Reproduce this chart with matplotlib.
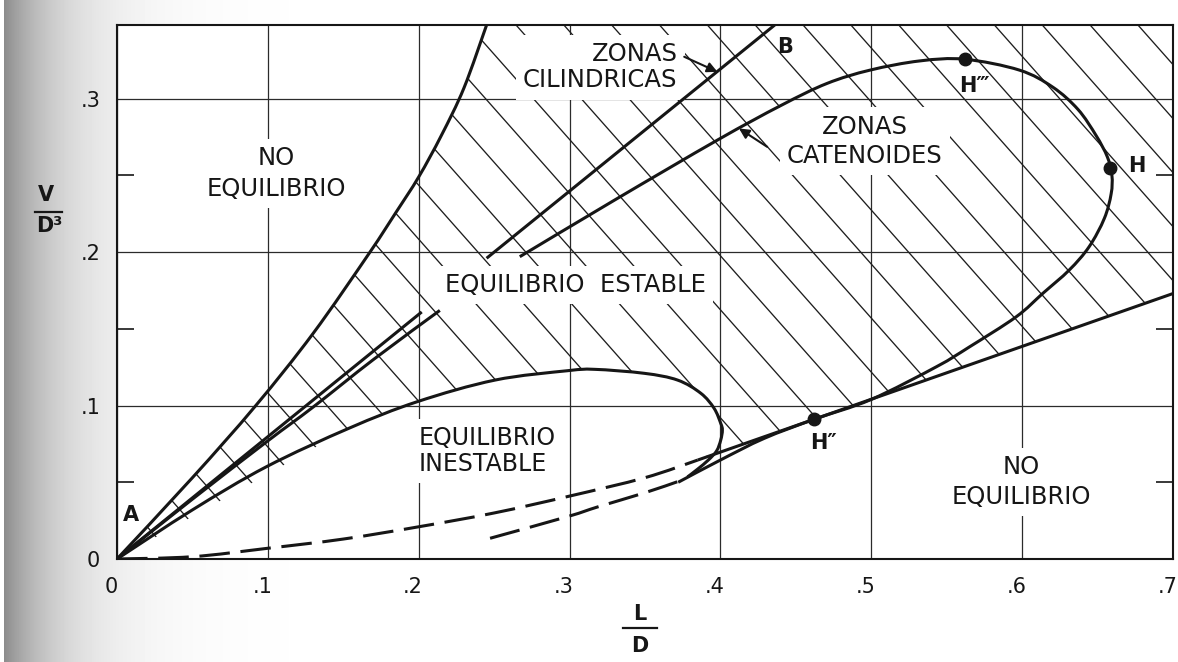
import numpy as np
import matplotlib
matplotlib.use("Agg")
import matplotlib.pyplot as plt
from matplotlib.patches import Polygon, PathPatch
from matplotlib.path import Path
from matplotlib.collections import LineCollection
from matplotlib.lines import Line2D
from matplotlib.transforms import ScaledTranslation

# ---------------- data: L/D (x) against V/D^3 (y) ----------------
# limit of stable equilibrium (steep curve leaving A)
limit_x = [0.0, 0.05, 0.092, 0.13, 0.167, 0.185, 0.200, 0.215, 0.230, 0.245]
limit_y = [0.0, 0.053, 0.100, 0.147, 0.199, 0.226, 0.249, 0.276, 0.307, 0.348]

# cylindrical zones line A-B (interrupted by the label)
cyl_lower_x = [0.0, 0.202]
cyl_lower_y = [0.0, 0.161]
cyl_upper_x = [0.245, 0.436]
cyl_upper_y = [0.196, 0.348]

# catenoid zones curve
cat_lower_x = [0.0, 0.05, 0.10, 0.13, 0.17, 0.214]
cat_lower_y = [0.0, 0.039, 0.077, 0.099, 0.130, 0.162]
cat_loop_x = [0.267, 0.330, 0.398, 0.440, 0.4706, 0.4992, 0.5322, 0.5619,
              0.5982, 0.6203, 0.6370, 0.6490, 0.6565, 0.6595, 0.6590, 0.6545,
              0.6444, 0.6312, 0.6137, 0.5960, 0.5652, 0.5432, 0.500, 0.462,
              0.429, 0.400, 0.372]
cat_loop_y = [0.197, 0.234, 0.273, 0.2955, 0.3099, 0.3186, 0.3246, 0.3257,
              0.3186, 0.3075, 0.2930, 0.2760, 0.2620, 0.2500, 0.2380, 0.2220,
              0.2035, 0.1883, 0.1731, 0.1578, 0.1383, 0.1253, 0.104, 0.091,
              0.0786, 0.0645, 0.050]

# limit of unstable equilibrium (closed nose near L/D = 0.4)
unstable_x = [0.0, 0.05, 0.099, 0.154, 0.199, 0.2506, 0.2986, 0.3166, 0.3496,
              0.3716, 0.387, 0.3958, 0.4002, 0.4013, 0.4002, 0.3975, 0.3920,
              0.3848, 0.3782]
unstable_y = [0.0, 0.032, 0.0601, 0.0853, 0.1025, 0.1166, 0.1227, 0.1236, 0.121,
              0.1166, 0.108, 0.0982, 0.0884, 0.084, 0.0775, 0.0705, 0.0645,
              0.0585, 0.0535]

# lower limit: dashed from the origin, then solid to the right edge
lowlim_dash_x = [0.0, 0.05, 0.10, 0.15, 0.20, 0.25, 0.30, 0.35, 0.385]
lowlim_dash_y = [0.0, 0.0015, 0.007, 0.013, 0.021, 0.030, 0.041, 0.053, 0.0645]
lowlim_x = [0.385, 0.70]
lowlim_y = [0.0645, 0.173]

# second dashed branch
branch_dash_x = [0.2473, 0.2986, 0.3188, 0.35, 0.3716]
branch_dash_y = [0.0135, 0.0276, 0.034, 0.0432, 0.0504]

# marked points
point_names = ["H\u2034", "H", "H\u2033"]
point_x = [0.5619, 0.6585, 0.462]
point_y = [0.3257, 0.2549, 0.091]

# axes ticks
xticks = [0.0, 0.1, 0.2, 0.3, 0.4, 0.5, 0.6, 0.7]
xtick_labels = ["0", ".1", ".2", ".3", ".4", ".5", ".6", ".7"]
yticks = [0.0, 0.1, 0.2, 0.3]
ytick_labels = ["0", ".1", ".2", ".3"]
yminor = [0.05, 0.15, 0.25]


def smooth_path(xs, ys):
    """Cubic Bezier path passing through every given point (Catmull-Rom tangents)."""
    p = np.column_stack([xs, ys]).astype(float)
    verts = [p[0]]
    codes = [Path.MOVETO]
    n = len(p)
    for i in range(n - 1):
        p0 = p[i - 1] if i > 0 else p[i]
        p1, p2 = p[i], p[i + 1]
        p3 = p[i + 2] if i + 2 < n else p[i + 1]
        verts += [p1 + (p2 - p0) / 6.0, p2 - (p3 - p1) / 6.0, p2]
        codes += [Path.CURVE4] * 3
    return Path(verts, codes)


# ---------------- figure ----------------
W, H = 1178, 662
fig = plt.figure(figsize=(W / 100, H / 100), dpi=100)

# page-gutter shading on the left
bg = fig.add_axes([0, 0, 1, 1], zorder=-10)
cols = np.arange(W)
shade = np.where(cols < 4, 1.0, 1 - 0.45 * np.exp(-(cols - 4) / 60.0))
bg.imshow(np.tile(shade, (H, 1)), cmap="gray", vmin=0, vmax=1,
          aspect="auto", extent=[0, 1, 0, 1], interpolation="bilinear")
bg.axis("off")

ax = fig.add_axes([117 / W, 1 - 559 / H, (1173 - 117) / W, (559 - 25) / H])
ax.set_xlim(0, 0.7)
ax.set_ylim(0, 0.348)

ink = "#161616"
for s in ax.spines.values():
    s.set_linewidth(1.5)
    s.set_color(ink)

ax.set_xticks(xticks)
ax.set_xticklabels(xtick_labels)
ax.set_yticks(yticks)
ax.set_yticklabels(ytick_labels)
ax.set_yticks(yminor, minor=True)
ax.tick_params(axis="both", which="major", length=0, labelsize=15, colors=ink)
ax.tick_params(axis="x", which="major", pad=13)
ax.tick_params(axis="y", which="major", pad=12)
ax.tick_params(axis="y", which="minor", direction="in", length=12, width=1.2,
               left=True, right=True, color=ink)
for lab in ax.get_xticklabels():
    lab.set_transform(lab.get_transform() + ScaledTranslation(-4 / 72, 0, fig.dpi_scale_trans))
ax.grid(True, which="major", color="#2b2b2b", lw=0.9, zorder=1)

# ---------------- hatched region of stable equilibrium ----------------
ux = np.array(unstable_x)
uy = np.array(unstable_y)
above = uy >= np.interp(ux, lowlim_x, lowlim_y) - 1e-9
region = (list(zip(limit_x, limit_y))
          + [(lowlim_x[-1], limit_y[-1])]
          + list(zip(lowlim_x[::-1], lowlim_y[::-1]))
          + list(zip(ux[above][::-1], uy[above][::-1])))
clip = Polygon(region, closed=True, facecolor="none", edgecolor="none",
               transform=ax.transData)
ax.add_patch(clip)

slope, step, c0 = -1.11, 0.0352, 0.536
cs = c0 + step * np.arange(-20, 20)
segs = [[(-0.05, c + slope * -0.05), (0.75, c + slope * 0.75)] for c in cs]
hatch = LineCollection(segs, colors="#1e1e1e", linewidths=0.95, zorder=1.8)
ax.add_collection(hatch)
hatch.set_clip_path(clip)

# ---------------- curves ----------------
lw = 2.2


def curve(xs, ys, dashed=False):
    ls = (0, (10, 3.5)) if dashed else "solid"
    patch = PathPatch(smooth_path(xs, ys), facecolor="none", edgecolor=ink,
                      lw=lw, linestyle=ls, capstyle="butt", joinstyle="round",
                      zorder=4)
    ax.add_patch(patch)


curve(limit_x, limit_y)
curve(cat_lower_x, cat_lower_y)
curve(cat_loop_x, cat_loop_y)
curve(unstable_x, unstable_y)
curve(lowlim_dash_x, lowlim_dash_y, dashed=True)
curve(branch_dash_x, branch_dash_y, dashed=True)

kw = dict(color=ink, lw=lw, solid_capstyle="butt", zorder=4)
ax.plot(cyl_lower_x, cyl_lower_y, **kw)
ax.plot(cyl_upper_x, cyl_upper_y, **kw)
ax.plot(lowlim_x, lowlim_y, **kw)

ax.plot(point_x, point_y, "o", color=ink, ms=9, zorder=5)
label_offsets = [(7, -19), (19, 1), (7, -17)]
for name, px, py, off in zip(point_names, point_x, point_y, label_offsets):
    ax.annotate(name, (px, py), xytext=off, textcoords="offset points",
                ha="center", va="center", fontsize=15, fontweight="bold",
                color=ink, zorder=6)

# ---------------- region labels ----------------
box = dict(facecolor="white", edgecolor="none", boxstyle="square,pad=0.3")
tkw = dict(fontsize=17.5, color=ink, zorder=3, bbox=box)
ax.text(0.1056, 0.2511, "NO\nEQUILIBRIO", ha="center", va="center",
        linespacing=1.35, **tkw)
ax.text(0.5993, 0.0502, "NO\nEQUILIBRIO", ha="center", va="center",
        linespacing=1.3, **tkw)
ax.text(0.3036, 0.1785, "EQUILIBRIO  ESTABLE", ha="center", va="center", **tkw)
ax.text(0.2, 0.0704, "EQUILIBRIO\nINESTABLE", ha="left", va="center",
        linespacing=1.12, fontsize=17, color=ink, zorder=3, bbox=box)
ax.text(0.3716, 0.3205, "ZONAS\nCILINDRICAS", ha="right", va="center",
        multialignment="right", linespacing=1.12, **tkw)
ax.text(0.4957, 0.2723, "ZONAS\nCATENOIDES", ha="center", va="center",
        linespacing=1.25, **tkw)
ax.text(0.0092, 0.0287, "A", ha="center", va="center", fontsize=15,
        fontweight="bold", color=ink, zorder=6)
ax.text(0.443, 0.3335, "B", ha="center", va="center", fontsize=15,
        fontweight="bold", color=ink, zorder=6)

akw = dict(arrowstyle="-|>", color=ink, lw=1.5, mutation_scale=15,
           shrinkA=0, shrinkB=0)
ax.annotate("", xy=(0.398, 0.3175), xytext=(0.376, 0.3273), arrowprops=akw,
            zorder=6)
ax.annotate("", xy=(0.4123, 0.2806), xytext=(0.431, 0.2686), arrowprops=akw,
            zorder=6)

# ---------------- axis titles as stacked fractions ----------------
fig.text(46 / W, 1 - 195 / H, "V", ha="center", va="center", fontsize=15,
         fontweight="bold", color=ink)
fig.add_artist(Line2D([35 / W, 62 / W], [1 - 212 / H] * 2, color=ink, lw=1.6))
fig.text(49 / W, 1 - 226 / H, "D\u00b3", ha="center", va="center", fontsize=15,
         fontweight="bold", color=ink)

fig.text(640 / W, 1 - 614 / H, "L", ha="center", va="center", fontsize=15,
         fontweight="bold", color=ink)
fig.add_artist(Line2D([623 / W, 657 / W], [1 - 628 / H] * 2, color=ink, lw=1.6))
fig.text(640 / W, 1 - 646 / H, "D", ha="center", va="center", fontsize=15,
         fontweight="bold", color=ink)

fig.savefig("out.png", dpi=100)
